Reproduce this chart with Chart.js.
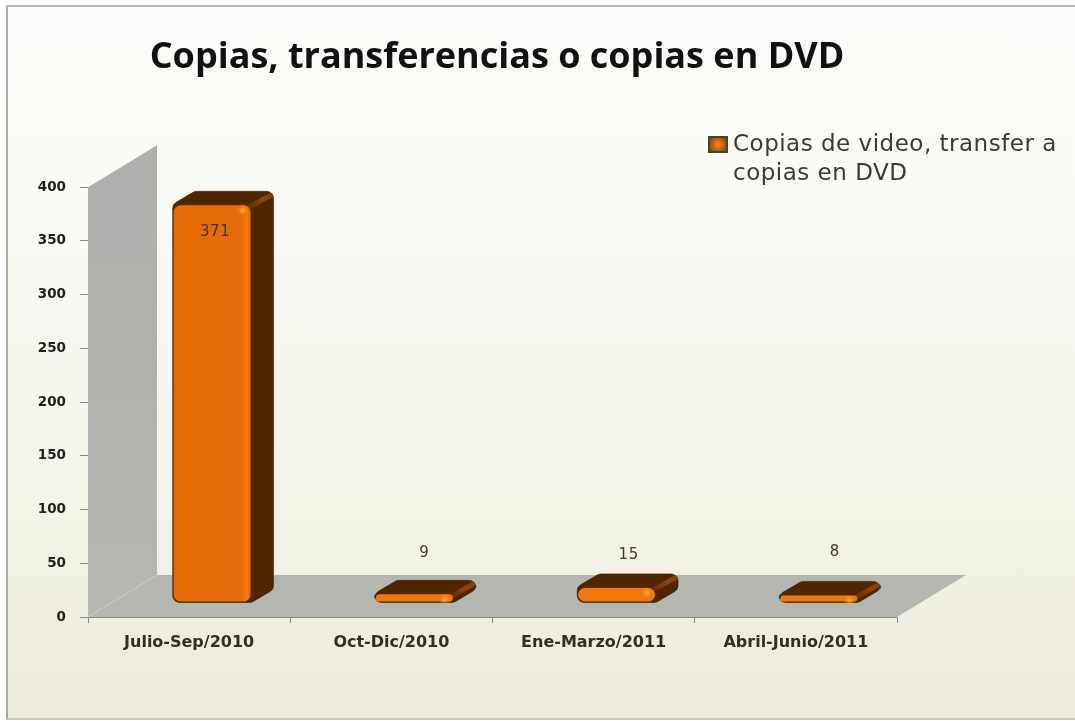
<!DOCTYPE html>
<html><head><meta charset="utf-8">
<style>
html,body{margin:0;padding:0;background:#fff;overflow:hidden}
#wrap{position:absolute;left:0;top:0;width:1075px;height:721px;background:#fff}
#frame{position:absolute;left:6px;top:5px;width:1069px;height:715px;box-sizing:border-box;
 border-left:2px solid #a9a9a6;border-top:2px solid #b4b4b0;border-bottom:2px solid #c9c9bd;
 background:linear-gradient(180deg,#fbfbf9 0%,#fafaf6 30%,#f3f3e8 70%,#ebeada 100%);filter:blur(.6px)}
canvas{position:absolute;left:0;top:0;filter:blur(.55px)}
</style>
<script src="https://cdn.jsdelivr.net/npm/chart.js@4"></script>
</head><body><div id="wrap"><div id="frame"></div><canvas id="c" width="1075" height="721"></canvas></div>
<script>
const categories = ["Julio-Sep/2010","Oct-Dic/2010","Ene-Marzo/2011","Abril-Junio/2011"];
const seriesValues = [371,9,15,8];
const seriesName = ["Copias de video, transfer a","copias en DVD"];
const chartTitle = "Copias, transferencias o copias en DVD";
const yTicks = [0,50,100,150,200,250,300,350,400];

const DX=23, DY=-14, BX=22, BY=-13, WX=69, WY=-42;
function rr(ctx,pts,r){
  ctx.beginPath();
  const n=pts.length;
  ctx.moveTo((pts[n-1][0]+pts[0][0])/2,(pts[n-1][1]+pts[0][1])/2);
  for(let i=0;i<n;i++){const p=pts[i],q=pts[(i+1)%n];ctx.arcTo(p[0],p[1],(p[0]+q[0])/2,(p[1]+q[1])/2,r);}
  ctx.closePath();
}
const scene={
  id:'scene',
  afterLayout(chart){
    const t=chart.titleBlock;
    if(t){t.left+=4.5;t.right+=4.5;}
  },
  beforeDatasetsDraw(chart){
    const {ctx,chartArea:a}=chart;
    ctx.save();
    // wall
    ctx.fillStyle=(()=>{const g=ctx.createLinearGradient(0,a.top,0,a.bottom);g.addColorStop(0,'#aeb0ad');g.addColorStop(1,'#b5b7b2');return g;})();
    ctx.beginPath();ctx.moveTo(a.left,a.top);ctx.lineTo(a.left+WX,a.top+WY);ctx.lineTo(a.left+WX,a.bottom+WY);ctx.lineTo(a.left,a.bottom);ctx.closePath();ctx.fill();
    // floor
    ctx.fillStyle='#b4b7b0';
    ctx.beginPath();ctx.moveTo(a.left,a.bottom);ctx.lineTo(a.left+WX,a.bottom+WY);ctx.lineTo(a.right+WX,a.bottom+WY);ctx.lineTo(a.right,a.bottom);ctx.closePath();ctx.fill();
    ctx.strokeStyle='#c9cbc5';ctx.lineWidth=1;
    ctx.beginPath();ctx.moveTo(a.left,a.bottom);ctx.lineTo(a.left+WX,a.bottom+WY);ctx.stroke();
    // bar depth
    chart.getDatasetMeta(0).data.forEach(b=>{
      const l=b.x-b.width/2+DX,r=b.x+b.width/2+DX,t=b.y+DY,bt=b.base+DY;
      const pts=[[l,t],[l+BX,t+BY],[r+BX,t+BY],[r+BX,bt+BY],[r,bt],[l,bt]];
      ctx.fillStyle='#4e2600';
      rr(ctx,pts,7);ctx.fill();
      ctx.strokeStyle='rgba(50,25,0,.55)';ctx.lineWidth=1;ctx.stroke();
      // bevelled edge of the top right corner
      const g=ctx.createLinearGradient(r+BX,t+BY,r,t);
      g.addColorStop(0,'#7a3d05');g.addColorStop(.5,'#8f4808');g.addColorStop(1,'#6a3303');
      ctx.strokeStyle=g;ctx.lineWidth=5;ctx.lineCap='round';
      ctx.beginPath();ctx.moveTo(r-3,t+3);ctx.lineTo(r+BX-3,t+BY+4);ctx.stroke();
    });
    ctx.restore();
    ctx.save();ctx.translate(DX,DY);
  },
  afterDatasetsDraw(chart){
    const {ctx}=chart;
    ctx.restore();
    ctx.save();
    // highlights on each bar
    chart.getDatasetMeta(0).data.forEach(b=>{
      const r=b.x+b.width/2+DX,t=b.y+DY;
      const g=ctx.createRadialGradient(r-9,t+6,0,r-9,t+6,6);
      g.addColorStop(0,'rgba(255,185,80,.8)');g.addColorStop(1,'rgba(255,140,20,0)');
      ctx.fillStyle=g;ctx.fillRect(r-16,t,14,12);
    });
    // value labels
    const nudge=[[3,28],[10,-40],[12,-32],[16,-42]];
    ctx.font='15px "DejaVu Sans"';ctx.letterSpacing='.5px';ctx.fillStyle='#3f3a30';ctx.textAlign='center';ctx.textBaseline='middle';
    chart.getDatasetMeta(0).data.forEach((b,i)=>{
      ctx.fillText(String(seriesValues[i]),b.x+DX+nudge[i][0],b.y+DY+nudge[i][1]);
    });
    // legend
    const lx=708,ly=136;
    ctx.fillStyle='#3e4a20';ctx.fillRect(lx,ly,20,17);
    const g2=ctx.createRadialGradient(lx+10,ly+8.5,1,lx+10,ly+8.5,10);
    g2.addColorStop(0,'#f6821e');g2.addColorStop(1,'#8a4206');
    ctx.fillStyle=g2;ctx.fillRect(lx+2,ly+2,16,13);
    ctx.font='23px "DejaVu Sans"';ctx.letterSpacing='.5px';ctx.fillStyle='#3a3a36';ctx.textAlign='left';ctx.textBaseline='middle';
    ctx.fillText(seriesName[0],733,145);
    ctx.fillText(seriesName[1],733,174);
    ctx.restore();
  }
};
const ctxEl=document.getElementById('c');
new Chart(ctxEl,{
  type:'bar',
  data:{labels:categories,datasets:[{
    label:seriesName.join(' '),data:seriesValues,
    backgroundColor(c){
      const ch=c.chart,sx=ch.scales.x;
      if(!sx||!ch.chartArea||c.dataIndex===undefined)return '#e56c0a';
      if(seriesValues[c.dataIndex]<50)return '#f0780e';
      const cx=sx.getPixelForValue(c.dataIndex),w=sx.width/categories.length*.39;
      if(!Number.isFinite(cx)||!Number.isFinite(w))return '#e56c0a';
      const g=ch.ctx.createLinearGradient(cx-w/2,0,cx+w/2,0);
      g.addColorStop(0,'#de6608');g.addColorStop(.05,'#e76c08');g.addColorStop(.88,'#e56c0a');g.addColorStop(.94,'#f57a0c');g.addColorStop(1,'#d9650a');
      return g;
    },
    borderColor:'rgba(120,58,0,.45)',borderWidth:1,borderSkipped:false,borderRadius:8,
    barPercentage:.39,categoryPercentage:1
  }]},
  options:{
    responsive:false,animation:false,
    layout:{padding:{top:0,right:178,left:0,bottom:0}},
    plugins:{
      legend:{display:false},tooltip:{enabled:false},
      title:{display:true,text:chartTitle,fullSize:false,color:'#111',
        font:{family:'"Open Sans"',size:36,weight:'bold'},padding:{top:36,bottom:108}}
    },
    scales:{
      x:{grid:{drawOnChartArea:false,drawTicks:true,tickLength:6,color:'#8a8a84'},border:{color:'#8a8c86'},
        ticks:{color:'#2e2e2a',font:{family:'"DejaVu Sans"',size:16,weight:'bold'},padding:10,maxRotation:0},
        afterFit(s){s.height=104;}},
      y:{min:0,max:400,grid:{drawOnChartArea:false,drawTicks:true,tickLength:8,color:'#8a8a84'},border:{display:false},
        afterBuildTicks(s){s.ticks=yTicks.map(v=>({value:v}));},
        ticks:{color:'#1f1f1c',font:{family:'"DejaVu Sans"',size:13.5,weight:'bold'},padding:14},
        afterFit(s){s.width=88;}}
    }
  },
  plugins:[scene]
});
</script></body></html>
